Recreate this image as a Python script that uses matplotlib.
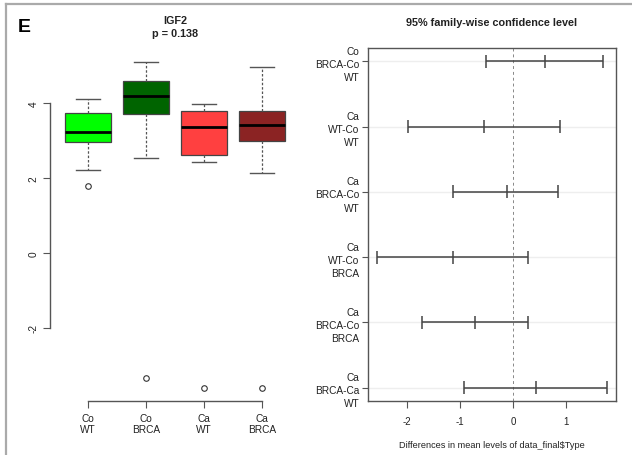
import matplotlib
matplotlib.use("Agg")
import matplotlib.pyplot as plt
from matplotlib.lines import Line2D
import numpy as np

plt.rcParams['font.family'] = ['Liberation Sans', 'DejaVu Sans']

# ---- Boxplot data (IGF2) ----
groups = ["Co\nWT", "Co\nBRCA", "Ca\nWT", "Ca\nBRCA"]
box_colors = ["#00FF00", "#006400", "#FF4040", "#8B2323"]
whisker_low = [2.21, 2.53, 2.42, 2.13]
q1 = [2.96, 3.70, 2.62, 2.98]
medians = [3.23, 4.19, 3.37, 3.41]
q3 = [3.73, 4.58, 3.78, 3.79]
whisker_high = [4.11, 5.10, 3.97, 4.97]
outliers = [[1.78], [-3.33], [-3.60], [-3.60]]
y_ticks = [-2, 0, 2, 4]

# ---- TukeyHSD data ----
comparisons = ["Co\nBRCA-Co\nWT", "Ca\nWT-Co\nWT", "Ca\nBRCA-Co\nWT",
               "Ca\nWT-Co\nBRCA", "Ca\nBRCA-Co\nBRCA", "Ca\nBRCA-Ca\nWT"]
diff = [0.596, -0.551, -0.125, -1.139, -0.720, 0.432]
lwr = [-0.513, -1.985, -1.128, -2.571, -1.711, -0.921]
upr = [1.692, 0.878, 0.853, 0.289, 0.282, 1.767]
x_ticks = [-2, -1, 0, 1]

W, H = 632, 456
fig = plt.figure(figsize=(W / 100, H / 100), dpi=100)

def px_axes(x0, y0, x1, y1):
    return fig.add_axes([x0 / W, 1 - y1 / H, (x1 - x0) / W, (y1 - y0) / H])

line_col = "#444444"
txt_col = "#222222"

# ---------- Left: boxplot ----------
ax1 = px_axes(49.7, 49.6, 300.3, 402)
stats = []
for i in range(len(groups)):
    stats.append(dict(med=medians[i], q1=q1[i], q3=q3[i],
                      whislo=whisker_low[i], whishi=whisker_high[i],
                      fliers=outliers[i]))
pos = np.arange(1, len(groups) + 1)
bp = ax1.bxp(stats, positions=pos, widths=0.8, capwidths=0.4, patch_artist=True,
             boxprops=dict(edgecolor="#444444", linewidth=0.9),
             whiskerprops=dict(color="#555555", linestyle=(0, (2, 1.5)), linewidth=0.9),
             capprops=dict(color="#555555", linewidth=1.0),
             medianprops=dict(color="black", linewidth=2.0),
             flierprops=dict(marker="o", markerfacecolor="none",
                             markeredgecolor="#333333", markersize=4, markeredgewidth=0.8))
for patch, c in zip(bp["boxes"], box_colors):
    patch.set_facecolor(c)

allv = [v for o in outliers for v in o] + whisker_low + whisker_high
lo, hi = min(allv), max(allv)
pad = (hi - lo) * 0.04
ax1.set_ylim(lo - pad, hi + pad)
n = len(groups)
xpad = n * 0.04
ax1.set_xlim(0.5 - xpad, n + 0.5 + xpad)

for s in ["top", "right"]:
    ax1.spines[s].set_visible(False)
ax1.spines["left"].set_bounds(min(y_ticks), max(y_ticks))
ax1.spines["bottom"].set_bounds(1, n)
for s in ["left", "bottom"]:
    ax1.spines[s].set_color("#555555")
    ax1.spines[s].set_linewidth(1.0)
ax1.set_yticks(y_ticks)
ax1.set_yticklabels([str(t) for t in y_ticks], rotation=90, va="center")
ax1.set_xticks(pos)
ax1.set_xticklabels(groups, linespacing=1.05)
ax1.tick_params(axis="both", length=5, color="#555555", labelsize=7.3,
                labelcolor=txt_col)
ax1.tick_params(axis="y", pad=3)
ax1.tick_params(axis="x", pad=4)

fig.text(175 / W, 1 - 21 / H, "IGF2", ha="center", va="center",
         fontsize=7.8, fontweight="bold", color=txt_col)
fig.text(175 / W, 1 - 34 / H, "p = 0.138", ha="center", va="center",
         fontsize=7.8, fontweight="bold", color=txt_col)

# ---------- Right: TukeyHSD ----------
ax2 = px_axes(367.7, 49.3, 616, 401.7)
m = len(comparisons)
yvals = np.arange(m, 0, -1)
ax2.hlines(yvals, 0, 1, transform=ax2.get_yaxis_transform(),
           colors="#EEEEEE", linewidth=1.0, zorder=1)
ax2.axvline(0, color="#888888", linestyle=(0, (3, 3)), linewidth=0.7, zorder=1)
ax2.hlines(yvals, lwr, upr, colors=line_col, linewidth=1.1, zorder=3)
for arr in (lwr, diff, upr):
    ax2.vlines(arr, yvals - 0.1, yvals + 0.1, colors=line_col, linewidth=1.1, zorder=3)

xlo, xhi = min(lwr), max(upr)
xp = (xhi - xlo) * 0.04
ax2.set_xlim(xlo - xp, xhi + xp)
ax2.set_ylim(1 - (m - 1) * 0.04, m + (m - 1) * 0.04)
ax2.set_yticks(yvals)
ax2.set_yticklabels(comparisons, linespacing=1.4, ha="right")
ax2.set_xticks(x_ticks)
ax2.set_xticklabels([str(t) for t in x_ticks])
for s in ax2.spines.values():
    s.set_color("#555555")
    s.set_linewidth(1.0)
ax2.tick_params(axis="y", length=4, color="#555555", labelsize=7.3,
                labelcolor=txt_col, pad=2)
ax2.tick_params(axis="x", length=5, color="#555555", labelsize=7.0,
                labelcolor=txt_col, pad=6)
ax2.set_xlabel("Differences in mean levels of data_final$Type", fontsize=6.6,
               color=txt_col, labelpad=10)

fig.text(491.7 / W, 1 - 23.3 / H, "95% family-wise confidence level",
         ha="center", va="center", fontsize=7.8, fontweight="bold", color=txt_col)

# Panel label and frame
fig.text(24 / W, 1 - 28 / H, "E", ha="center", va="center",
         fontsize=14, fontweight="bold", color="black")
fig.add_artist(Line2D([6 / W, 1], [1 - 5 / H, 1 - 5 / H], transform=fig.transFigure,
                      color="#AAAAAA", linewidth=1.6))
fig.add_artist(Line2D([6 / W, 6 / W], [0, 1 - 5 / H], transform=fig.transFigure,
                      color="#AAAAAA", linewidth=1.6))

fig.savefig("out.png", dpi=100)
